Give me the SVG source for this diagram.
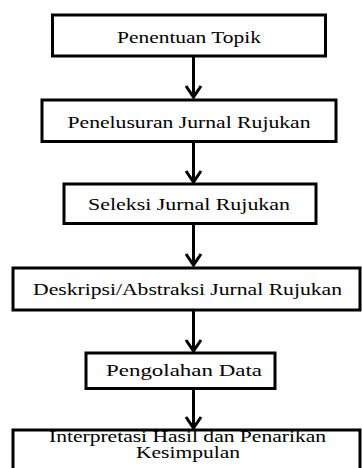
<svg xmlns="http://www.w3.org/2000/svg" width="362" height="468" viewBox="0 0 362 468">
  <rect width="362" height="468" fill="#ffffff"/>

  <g id="connectors" stroke="#000000" stroke-width="3" fill="none">
    <path d="M193.5,57 V97 M186,86 L193.5,97 L201,86"/>
    <path d="M193.5,142 V182 M186,171 L193.5,182 L201,171"/>
    <path d="M193.5,224 V265 M186,254 L193.5,265 L201,254"/>
    <path d="M193.5,311 V351 M186,340 L193.5,351 L201,340"/>
    <path d="M193.5,389 V428 M186,417 L193.5,428 L201,417"/>
  </g>

  <g id="node1">
    <rect x="52.5" y="15" width="273" height="41" fill="#ffffff" stroke="#000000" stroke-width="3"/>
    <text font-family="Liberation Serif" font-size="17" x="117" y="42.5" textLength="144" lengthAdjust="spacingAndGlyphs">Penentuan Topik</text>
  </g>
  <g id="node2">
    <rect x="42" y="100" width="294" height="41.5" fill="#ffffff" stroke="#000000" stroke-width="3"/>
    <text font-family="Liberation Serif" font-size="17" x="67.5" y="127.5" textLength="243" lengthAdjust="spacingAndGlyphs">Penelusuran Jurnal Rujukan</text>
  </g>
  <g id="node3">
    <rect x="64" y="184" width="252" height="39.5" fill="#ffffff" stroke="#000000" stroke-width="3"/>
    <text font-family="Liberation Serif" font-size="17" x="88" y="209.5" textLength="202" lengthAdjust="spacingAndGlyphs">Seleksi Jurnal Rujukan</text>
  </g>
  <g id="node4">
    <rect x="13" y="268" width="347" height="42" fill="#ffffff" stroke="#000000" stroke-width="3"/>
    <text font-family="Liberation Serif" font-size="17" x="33" y="295" textLength="309" lengthAdjust="spacingAndGlyphs">Deskripsi/Abstraksi Jurnal Rujukan</text>
  </g>
  <g id="node5">
    <rect x="86" y="353" width="189" height="35.5" fill="#ffffff" stroke="#000000" stroke-width="3"/>
    <text font-family="Liberation Serif" font-size="17" x="106" y="375.5" textLength="156" lengthAdjust="spacingAndGlyphs">Pengolahan Data</text>
  </g>
  <g id="node6">
    <rect x="13" y="430" width="347" height="60" fill="#ffffff" stroke="#000000" stroke-width="3"/>
    <text font-family="Liberation Serif" font-size="16" x="49" y="442" textLength="277" lengthAdjust="spacingAndGlyphs">Interpretasi Hasil dan Penarikan</text>
    <text font-family="Liberation Serif" font-size="16" x="136" y="457.5" textLength="104" lengthAdjust="spacingAndGlyphs">Kesimpulan</text>
  </g>
</svg>
